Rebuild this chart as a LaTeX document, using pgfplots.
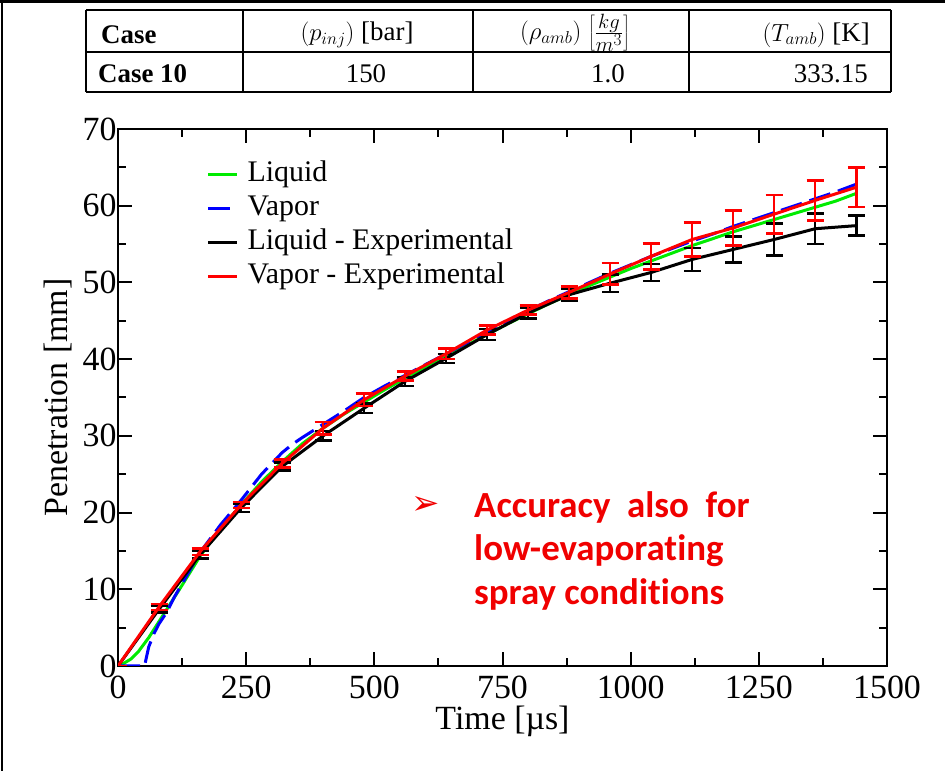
\documentclass[border=0pt]{standalone}
\usepackage{pgfplots}
\pgfplotsset{compat=1.18}
\usepackage{fontspec}
\setmainfont{Liberation Serif}
\newfontfamily\carlito[Ligatures={NoCommon,NoRequired,NoContextual}]{Carlito}
\newfontfamily\dejavu{DejaVu Sans}
\definecolor{lgreen}{RGB}{0,235,0}
\definecolor{vblue}{RGB}{0,0,255}
\definecolor{vred}{RGB}{255,0,0}
\definecolor{tred}{RGB}{240,0,0}
\begin{document}
\begin{tikzpicture}[x=1bp,y=1bp]
\useasboundingbox (0,0) rectangle (945,771);
% slide frame
\draw[line width=3bp] (0,769) -- (945,769);
\draw[line width=2bp] (2,771) -- (2,0);
% table
\begin{scope}[line width=1.6bp]
\draw (86,761) -- (891,761);
\draw (86,719) -- (891,719);
\draw[line width=2.2bp] (86,679) -- (891,679);
\draw (86,761) -- (86,679);
\draw (243,761) -- (243,679);
\draw (473,761) -- (473,679);
\draw (689,761) -- (689,679);
\draw (891,761) -- (891,679);
\end{scope}
\begin{scope}[every node/.style={font=\fontsize{27}{29}\selectfont, inner sep=0pt}]
\node[anchor=west] at (101,736) {\textbf{Case}};
\node at (357,736) {$(p_{inj})$ [bar]};
\node at (575,738) {$(\rho_{amb})$ {\fontsize{32}{32}\selectfont$\left[\frac{kg}{m^3}\right]$}};
\node[anchor=east] at (870,736) {$(T_{amb})$ [K]};
\node[anchor=west] at (98,697) {\textbf{Case 10}};
\node at (366,697) {150};
\node at (608,697) {1.0};
\node[anchor=east] at (868,697) {333.15};
\end{scope}
\begin{axis}[
  at={(118bp,105bp)}, anchor=south west,
  width=769bp, height=537bp, scale only axis,
  xmin=0, xmax=1500, ymin=0, ymax=70,
  xtick={0,250,...,1500}, ytick={0,10,...,70},
  minor x tick num=1, minor y tick num=1,
  tick align=inside, major tick length=14bp, minor tick length=8bp,
  axis line style={line width=2.2bp},
  every tick/.style={line width=2bp, black},
  /pgf/number format/assume math mode=true,
  /pgf/number format/1000 sep={},
  tick label style={font=\fontsize{34}{34}\selectfont},
  xticklabel style={yshift=-6bp},
  yticklabel style={xshift=2bp},
  label style={font=\fontsize{34}{34}\selectfont},
  xlabel={Time [µs]}, ylabel={Penetration [mm]},
  xlabel style={at={(axis description cs:0.5,0)}, anchor=center, yshift=-55bp},
  ylabel style={yshift=4bp},
  legend image code/.code={\draw[#1, line width=3bp] (0bp,0bp) -- (29bp,0bp);},
  legend cell align=left,
  legend style={draw=none, fill=none, at={(0.115,0.948)}, anchor=north west,
    font=\fontsize{30}{34}\selectfont, inner sep=0pt, row sep=0bp,
    nodes={text height=22bp, text depth=7bp, inner ysep=2.5bp, inner xsep=9bp}},
]
\addplot[lgreen, line width=3bp] coordinates {
(0,0) (10,0.3) (25,0.9) (40,1.9) (60,3.7) (80,5.8) (100,7.9) (120,10.0)
(160,14.3) (200,17.9) (240,21.0) (280,24.0) (320,26.6) (360,29.0) (400,31.0)
(440,32.8) (480,34.4) (520,36.0) (560,37.5) (600,39.0) (640,40.4) (680,41.8)
(720,43.2) (760,44.6) (800,45.9) (840,47.2) (880,48.4) (920,49.6) (960,50.7)
(1000,51.8) (1040,52.8) (1080,53.8) (1120,54.8) (1160,55.7) (1200,56.6)
(1240,57.4) (1280,58.2) (1320,59.0) (1360,59.8) (1400,60.6) (1440,61.6)};
\addlegendentry{Liquid}
\addplot[vblue, line width=3bp, dash pattern=on 22bp off 8bp] coordinates {
(0,0) (52,0) (55,1.0) (60,2.5) (70,4.2) (80,5.5) (95,7.0) (110,9.0) (130,11.3)
(160,14.8) (200,18.4) (240,21.6) (280,25.0) (320,27.8) (340,28.9) (360,29.8)
(400,31.5) (440,33.2) (480,35.0) (520,36.5) (560,37.9) (600,39.3) (640,40.7)
(680,42.1) (720,43.6) (760,45.0) (800,46.3) (840,47.6) (880,48.8) (920,50.0)
(960,51.2) (1000,52.3) (1040,53.4) (1080,54.4) (1120,55.4) (1160,56.3)
(1200,57.3) (1240,58.2) (1280,59.1) (1320,60.0) (1360,60.9) (1400,61.8) (1440,62.8)};
\addlegendentry{Vapor}
\addplot[black, line width=3bp,
  error bars/.cd, y dir=both, y explicit,
  error bar style={line width=2.5bp},
  error mark options={rotate=90, mark size=8.5bp, line width=2.5bp}]
  table[x=t, y=v, y error=e] {
t v e
0 0 0
80 7.4 0.4
160 14.5 0.5
240 20.6 0.5
320 26.0 0.5
400 30.0 0.6
480 33.6 0.6
560 37.1 0.6
640 40.1 0.6
720 43.2 0.7
800 46.0 0.7
880 48.4 0.8
960 49.9 1.15
1040 51.3 1.1
1120 53.0 1.5
1200 54.3 1.7
1280 55.6 2.1
1360 57.0 2.0
1440 57.4 1.3
};
\addlegendentry{Liquid - Experimental}
\addplot[vred, line width=3bp,
  error bars/.cd, y dir=both, y explicit,
  error bar style={line width=2.5bp},
  error mark options={rotate=90, mark size=8.5bp, line width=2.5bp}]
  table[x=t, y=v, y error=e] {
t v e
0 0 0
80 7.7 0.4
160 14.9 0.4
240 21.0 0.4
320 26.4 0.5
400 31.0 0.8
480 34.7 0.8
560 37.8 0.6
640 40.7 0.7
720 43.8 0.6
800 46.4 0.6
880 48.7 0.8
960 51.1 1.4
1040 53.4 1.7
1120 55.6 2.2
1200 57.1 2.3
1280 58.9 2.5
1360 60.7 2.6
1440 62.4 2.6
};
\addlegendentry{Vapor - Experimental}
\end{axis}
% annotation
\node[text=tred, font=\dejavu\fontsize{34}{34}\selectfont, inner sep=0pt] at (426,266) {➢};
\begin{scope}[every node/.style={text=tred, font=\carlito\bfseries\fontsize{37}{37}\selectfont, inner sep=0pt, anchor=base west}]
\node at (474,253) {Accuracy\ \ also\ \ for};
\node at (474,210) {low-evaporating};
\node at (474,166) {spray conditions};
\end{scope}
\end{tikzpicture}
\end{document}
